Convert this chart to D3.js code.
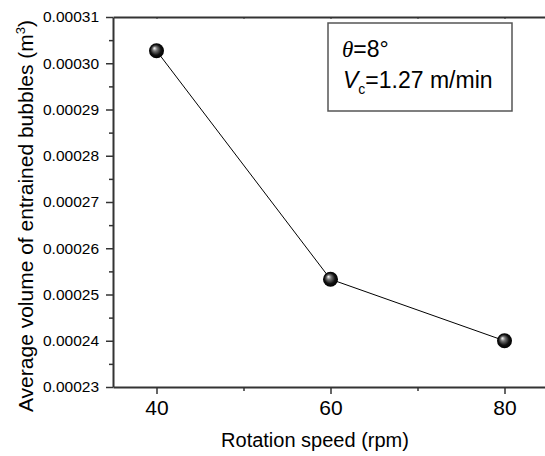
<!DOCTYPE html>
<meta charset="utf-8">
<script src="https://d3js.org/d3.v7.min.js"></script>
<style>
body { margin: 0; background: #fff; }
svg { display: block; font-family: "Liberation Sans", Arial, sans-serif; }
.axis path, .axis line { stroke: #333; }
.axis text { fill: #000; }
</style>
<body>
</body>
<script>

// data
var speeds = [40, 60, 80];
var volumes = [0.0003027, 0.0002533, 0.0002400];
var xTicks = [40, 60, 80];
var xMinor = [50, 70];
var yTicks = [0.00023, 0.00024, 0.00025, 0.00026, 0.00027, 0.00028, 0.00029, 0.00030, 0.00031];
var yMinor = [0.000235, 0.000245, 0.000255, 0.000265, 0.000275, 0.000285, 0.000295, 0.000305];

var width = 545, height = 456;
var plotLeft = 113, plotTop = 17, plotBottom = 387, plotRight = 548;

var svg = d3.select("body").append("svg")
  .attr("width", width)
  .attr("height", height);

var xScale = d3.scaleLinear().domain([35, 85]).range([plotLeft, plotRight]);
var yScale = d3.scaleLinear().domain([0.00023, 0.00031]).range([plotBottom, plotTop]);

// minor ticks
svg.append("g").attr("class", "axis")
  .attr("transform", "translate(0," + plotBottom + ")")
  .call(d3.axisBottom(xScale).tickValues(xMinor).tickSize(4).tickFormat(""))
  .call(function(g) { g.select(".domain").remove(); g.selectAll("line").attr("stroke-width", 1.5); });
svg.append("g").attr("class", "axis")
  .attr("transform", "translate(" + plotLeft + ",0)")
  .call(d3.axisLeft(yScale).tickValues(yMinor).tickSize(4).tickFormat(""))
  .call(function(g) { g.select(".domain").remove(); g.selectAll("line").attr("stroke-width", 1.5); });

// top axis (small inward ticks)
svg.append("g").attr("class", "axis")
  .attr("transform", "translate(0," + plotTop + ")")
  .call(d3.axisBottom(xScale).tickValues(xTicks.concat(xMinor)).tickSize(2).tickSizeOuter(0).tickFormat(""))
  .call(function(g) { g.select(".domain").attr("stroke-width", 2); g.selectAll("line").attr("stroke-width", 1); });

// bottom axis
svg.append("g").attr("class", "axis")
  .attr("transform", "translate(0," + plotBottom + ")")
  .call(d3.axisBottom(xScale).tickValues(xTicks).tickSize(7).tickSizeOuter(0).tickPadding(6))
  .call(function(g) {
    g.select(".domain").attr("stroke-width", 2);
    g.selectAll("line").attr("stroke-width", 1.5);
    g.selectAll("text").attr("font-size", "21px");
  });

// left axis
svg.append("g").attr("class", "axis")
  .attr("transform", "translate(" + plotLeft + ",0)")
  .call(d3.axisLeft(yScale).tickValues(yTicks).tickSize(7).tickSizeOuter(0).tickPadding(7)
    .tickFormat(function(d) { return d.toFixed(5); }))
  .call(function(g) {
    g.select(".domain").attr("stroke-width", 2);
    g.selectAll("line").attr("stroke-width", 1.5);
    g.selectAll("text").attr("font-size", "15.5px");
  });

// axis titles
svg.append("text")
  .attr("x", 315)
  .attr("y", 447)
  .attr("text-anchor", "middle")
  .attr("font-size", "20px")
  .text("Rotation speed (rpm)");

var yTitle = svg.append("text")
  .attr("transform", "translate(33,216) rotate(-90)")
  .attr("text-anchor", "middle")
  .attr("font-size", "21px");
yTitle.append("tspan").text("Average volume of entrained bubbles (m");
yTitle.append("tspan").attr("font-size", "13px").attr("dy", -8).text("3");
yTitle.append("tspan").attr("dy", 8).text(")");

// line
var points = speeds.map(function(s, i) { return [s, volumes[i]]; });
svg.append("path")
  .datum(points)
  .attr("fill", "none")
  .attr("stroke", "#000")
  .attr("stroke-width", 1)
  .attr("d", d3.line().x(function(d) { return xScale(d[0]); }).y(function(d) { return yScale(d[1]); }));

// sphere markers
var grad = svg.append("defs").append("radialGradient")
  .attr("id", "ball")
  .attr("cx", "50%").attr("cy", "50%").attr("r", "50%")
  .attr("fx", "35%").attr("fy", "32%");
grad.append("stop").attr("offset", "0%").attr("stop-color", "#ffffff");
grad.append("stop").attr("offset", "30%").attr("stop-color", "#777");
grad.append("stop").attr("offset", "70%").attr("stop-color", "#111");
grad.append("stop").attr("offset", "100%").attr("stop-color", "#000");

svg.selectAll(".ball")
  .data(points).enter().append("circle")
  .attr("class", "ball")
  .attr("cx", function(d) { return xScale(d[0]); })
  .attr("cy", function(d) { return yScale(d[1]); })
  .attr("r", 7.5)
  .attr("fill", "url(#ball)");

// annotation box
svg.append("rect")
  .attr("x", 328).attr("y", 23)
  .attr("width", 184).attr("height", 88)
  .attr("fill", "#fff")
  .attr("stroke", "#555")
  .attr("stroke-width", 1.5);

var t1 = svg.append("text").attr("x", 342).attr("y", 57).attr("font-size", "23px");
t1.append("tspan").attr("font-family", "'Liberation Serif', serif").attr("font-style", "italic").text("θ");
t1.append("tspan").text("=8°");

var t2 = svg.append("text").attr("x", 343).attr("y", 88).attr("font-size", "23px");
t2.append("tspan").attr("font-style", "italic").text("V");
t2.append("tspan").attr("font-size", "14px").attr("dy", 6).text("c");
t2.append("tspan").attr("dy", -6).text("=1.27 m/min");

</script>
